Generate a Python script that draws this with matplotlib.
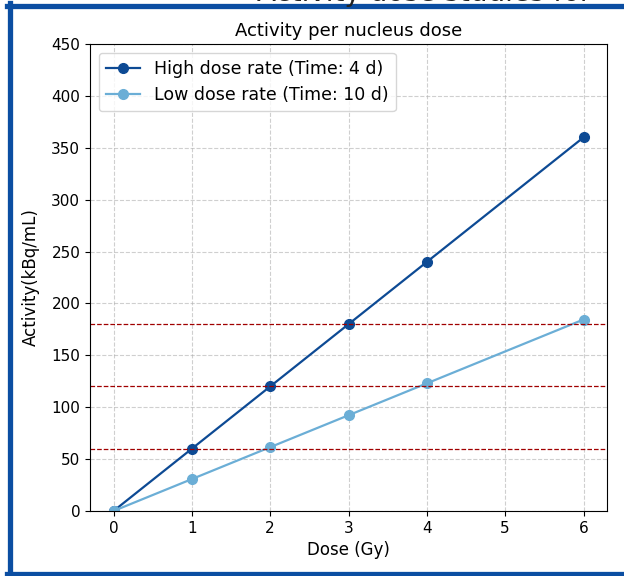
import matplotlib
matplotlib.use("Agg")
import matplotlib.pyplot as plt
from matplotlib.lines import Line2D

plt.rcParams.update({
    'font.family': 'DejaVu Sans',
    'font.size'  : 11,
})

dose      = [0, 1, 2, 3, 4, 6]
high_rate = [0, 60, 120, 180, 240, 360]
low_rate  = [0, 30.75, 61.5, 92.25, 123, 184.5]
ref_lines = [60, 120, 180]

HIGH_COL = '#0d4a94'
LOW_COL  = '#6baed6'
FRAME    = '#0b4ea2'

fig = plt.figure(figsize=(6.24, 5.76), dpi=100)
ax = fig.add_axes([90/624, 1 - 511/576, (607-90)/624, (511-44)/576])

ax.plot(dose, high_rate, marker='o', markersize=7, color=HIGH_COL, linewidth=1.6,
        label='High dose rate (Time: 4 d)')
ax.plot(dose, low_rate, marker='o', markersize=7, color=LOW_COL, linewidth=1.6,
        label='Low dose rate (Time: 10 d)')
for y in ref_lines:
    ax.axhline(y, color='#a00000', linestyle='--', linewidth=0.9)

ax.set_ylim(0, 450)
ax.set_xticks(range(0, 7))
ax.tick_params(labelsize=11)
ax.set_xlabel('Dose (Gy)', fontsize=12)
ax.set_ylabel('Activity(kBq/mL)', fontsize=12, labelpad=8.5)
ax.set_title('Activity per nucleus dose', fontsize=13)
ax.grid(True, linestyle='--', color='#b0b0b0', alpha=0.6)
ax.legend(loc='upper left', fontsize=12.5)

# clipped headline and screenshot frame
fig.text(257/624, 1 - 1/576, 'Activity dose studies for', fontsize=20,
         va='baseline', ha='left', color='#222222')
fig.add_artist(Line2D([9.5/624, 9.5/624], [0, 1 - 3/576], transform=fig.transFigure,
                      color=FRAME, linewidth=3.8))
fig.add_artist(Line2D([7/624, 1], [1 - 5.5/576, 1 - 5.5/576], transform=fig.transFigure,
                      color=FRAME, linewidth=3.8))
fig.add_artist(Line2D([7/624, 1], [2.5/576, 2.5/576], transform=fig.transFigure,
                      color=FRAME, linewidth=3.8))

fig.savefig('out.png', dpi=100)
